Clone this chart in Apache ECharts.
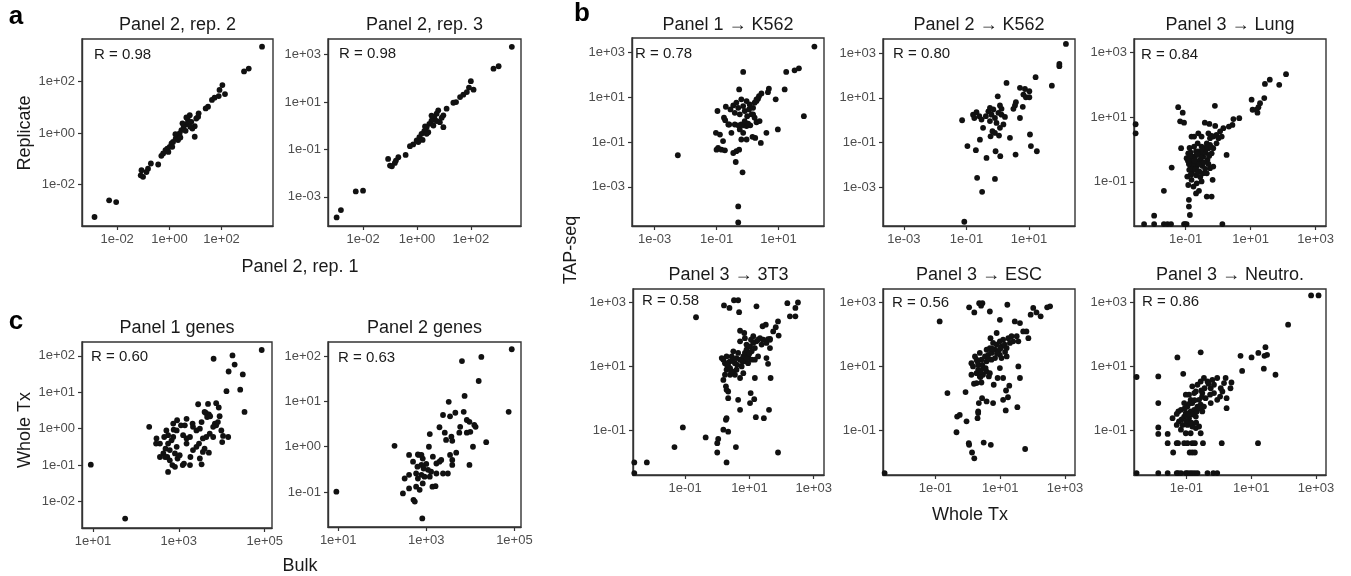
<!DOCTYPE html>
<html>
<head>
<meta charset="utf-8">
<script src="https://cdn.jsdelivr.net/npm/echarts@6/dist/echarts.min.js"></script>
<style>
  html, body { margin: 0; padding: 0; background: #fff; }
  #chart { width: 1351px; height: 576px; }
</style>
</head>
<body>
<div id="chart"></div>
<script>
// all values are log10 of the expression (axes are log scale)
var rep2 = [[3.55,3.36],[2.86,2.40],[3.04,2.51],[2.03,1.87],[2.13,1.52],[1.92,1.68],[1.89,1.44],[1.73,1.38],[1.63,1.29],[1.48,1.03],[1.39,0.96],[1.12,0.77],[1.03,0.57],[0.97,0.27],[0.97,-0.14],[0.88,0.18],[0.78,0.70],[0.71,0.51],[0.65,0.35],[0.55,0.25],[0.46,0.12],[0.39,-0.01],[0.31,-0.08],[0.24,-0.21],[0.14,-0.34],[0.08,-0.40],[0.01,-0.53],[-0.08,-0.60],[-0.15,-0.66],[-0.24,-0.79],[-0.31,-0.88],[0.23,-0.04],[0.33,-0.27],[0.5,0.38],[0.62,0.09],[0.84,0.44],[0.80,0.25],[0.11,-0.53],[-0.04,-0.73],[0.42,-0.17],[0.65,0.61],[1.10,0.64],[-0.43,-1.22],[-0.71,-1.18],[-0.82,-1.38],[-0.88,-1.51],[-1.07,-1.44],[-1.10,-1.64],[-1.01,-1.70],[-2.31,-2.61],[-2.04,-2.68],[-2.87,-3.26]];
var rep3 = [[3.52,3.33],[2.84,2.41],[3.03,2.51],[2.0,1.88],[2.1,1.52],[1.93,1.61],[1.85,1.42],[1.72,1.31],[1.60,1.21],[1.45,1.0],[1.35,0.97],[1.10,0.72],[0.98,0.44],[0.98,-0.06],[0.85,0.15],[0.79,0.65],[0.73,0.51],[0.64,0.36],[0.54,0.22],[0.46,0.08],[0.36,-0.06],[0.27,-0.23],[0.17,-0.34],[0.09,-0.48],[-0.01,-0.62],[-0.14,-0.79],[-0.26,-0.86],[0.30,-0.03],[0.61,0.01],[0.42,-0.27],[0.73,0.20],[0.92,0.34],[0.21,-0.60],[0.05,-0.69],[0.54,0.43],[0.36,-0.34],[-0.42,-1.23],[-0.69,-1.33],[-0.78,-1.47],[-0.82,-1.57],[-1.07,-1.40],[-1.0,-1.68],[-0.93,-1.71],[-2.27,-2.77],[-2.0,-2.74],[-2.82,-3.56],[-2.98,-3.87]];
var p1K562 = [[2.16,3.25],[1.66,2.28],[1.52,2.19],[1.25,2.12],[1.82,0.15],[1.20,1.34],[0.91,0.90],[0.69,1.37],[0.66,1.22],[0.45,1.16],[0.37,1.04],[0.34,0.93],[0.29,0.82],[0.23,0.75],[-0.14,2.12],[-0.27,1.34],[0.98,-0.44],[0.61,-0.59],[0.43,-1.04],[0.25,-0.82],[0.16,-0.77],[0.09,-0.26],[-0.03,-0.29],[-0.12,-0.26],[-0.97,0.38],[-0.70,0.57],[-0.76,0.08],[-0.72,-0.03],[-0.55,0.45],[-0.46,0.63],[-0.41,0.30],[-0.36,0.75],[-0.30,0.52],[-0.25,0.23],[-0.20,0.90],[-0.14,0.60],[-0.09,0.38],[-0.03,0.82],[-0.01,0.15],[0.05,0.45],[0.07,0.67],[0.13,0.23],[0.18,0.52],[0.23,0.08],[0.29,-0.12],[0.39,-0.07],[-0.59,-0.22],[-0.52,-0.59],[-1.02,-0.59],[-0.89,-0.67],[-0.79,-0.96],[-0.95,-1.26],[-1.0,-1.34],[-0.84,-1.34],[-0.73,-1.37],[-0.46,-1.49],[-0.36,-1.41],[-0.27,-1.34],[-0.2,-0.89],[-0.14,-0.59],[-0.03,-0.89],[-0.25,-0.44],[-0.41,-0.22],[-0.30,-0.26],[-0.20,-0.22],[0.02,-0.18],[-0.62,-0.22],[-0.09,-0.07],[0.29,0.90],[0.18,0.23],[-0.38,-1.89],[-0.16,-2.35],[-0.30,-3.87],[-0.30,-4.58],[-2.25,-1.59]];
var p2K562 = [[2.18,3.42],[1.97,2.52],[1.97,2.42],[1.73,1.55],[1.21,1.93],[0.28,1.67],[0.71,1.45],[0.87,1.40],[1.01,1.30],[0.82,1.15],[0.90,1.03],[1.01,1.03],[0.58,0.81],[0.55,0.66],[0.80,0.60],[0.50,0.51],[0.71,0.10],[0.39,-0.79],[1.03,-0.64],[1.06,-1.16],[1.25,-1.39],[0.57,-1.54],[0.08,-1.61],[-0.07,-1.39],[-0.36,-1.69],[-0.70,-1.34],[-0.97,-1.16],[-1.14,0.0],[-0.79,0.25],[-0.75,0.10],[-0.68,0.36],[-0.59,0.18],[-0.52,0.03],[-0.47,-0.34],[-0.57,-0.87],[-0.38,0.18],[-0.30,0.40],[-0.25,0.55],[-0.20,0.25],[-0.14,0.48],[-0.09,0.10],[-0.04,-0.12],[0.02,0.33],[0.07,0.66],[0.12,0.25],[0.18,-0.19],[0.23,0.15],[-0.17,-0.49],[-0.23,-0.72],[-0.09,-0.57],[0.04,-0.69],[0.07,-0.34],[-0.25,-0.04],[0.0,1.07],[0.12,0.51],[-0.66,-2.58],[-0.09,-2.63],[-0.50,-3.21],[-1.07,-4.55]];
var p3Lung = [[2.09,2.33],[1.59,2.16],[1.44,2.03],[1.88,2.00],[1.42,1.59],[1.29,1.43],[1.24,1.31],[1.18,1.23],[1.03,1.54],[1.06,1.23],[1.21,1.14],[0.65,0.97],[0.47,0.94],[0.44,0.76],[0.33,0.71],[0.16,0.66],[0.06,0.56],[-0.05,0.45],[-0.15,0.40],[-0.25,0.35],[0.26,-0.17],[-0.10,1.35],[-0.41,0.83],[-0.27,0.79],[-1.23,1.31],[-1.09,1.14],[-1.17,0.87],[-1.05,0.83],[-1.14,0.04],[-1.43,-0.56],[-1.67,-1.28],[-1.97,-2.05],[-2.28,-2.31],[-1.97,-2.31],[-1.67,-2.31],[-1.56,-2.31],[-1.45,-2.31],[-1.05,-2.31],[-0.97,-2.31],[0.13,-2.31],[-2.54,0.78],[-2.54,0.50],[-0.92,-0.12],[-0.87,-0.32],[-0.85,-0.53],[-0.82,-0.74],[-0.76,-0.43],[-0.71,-0.22],[-0.66,-0.53],[-0.61,-0.06],[-0.56,-0.32],[-0.51,0.09],[-0.46,-0.22],[-0.41,0.04],[-0.35,0.19],[-0.30,0.04],[-0.25,0.14],[-0.20,-0.12],[-0.15,0.04],[-0.89,-0.63],[-0.82,-0.94],[-0.76,-1.15],[-0.66,-1.05],[-0.68,-1.36],[-0.59,-1.28],[-0.51,-0.99],[-0.35,-1.46],[-0.20,-1.46],[-0.17,-0.94],[-0.46,-0.74],[-0.90,-1.56],[-0.90,-1.77],[-0.87,-2.03],[-1.02,-2.31],[-0.95,-0.84],[-0.92,-1.10],[-0.74,-0.63],[-0.58,-0.68],[-0.48,-0.51],[-0.33,-0.32],[-0.27,-0.17],[-0.63,0.19],[-0.82,0.40],[-0.74,0.09],[-0.54,-0.14],[-0.05,0.19],[0.01,0.35],[0.11,0.40],[-0.09,0.73],[-0.20,0.42],[-0.30,0.50],[-0.51,0.40],[-0.74,0.40],[-0.61,0.50],[-0.97,-0.27],[-0.78,-0.22],[-0.68,-0.06],[-0.78,-0.48],[-0.61,-0.38],[-0.85,-0.09],[-0.35,-0.74],[-0.25,-0.58],[-0.15,-0.53],[-0.90,-0.45],[-0.86,-0.20],[-0.80,-0.60],[-0.72,-0.35],[-0.68,-0.80],[-0.64,-0.15],[-0.58,-0.45],[-0.55,-0.85],[-0.52,-0.25],[-0.48,0.0],[-0.44,-0.40],[-0.40,-0.60],[-0.38,-0.10],[-0.34,0.10],[-0.30,-0.45],[-0.28,-0.20],[-0.22,0.08],[-0.84,-0.78],[-0.70,-0.62],[-0.62,-0.70],[-0.93,-0.35],[-0.88,0.05]];
var p3T3 = [[2.51,2.99],[2.43,2.82],[2.18,2.97],[2.26,2.56],[2.43,2.56],[1.89,2.40],[1.82,2.22],[1.74,2.09],[1.91,1.96],[1.64,1.86],[1.51,2.30],[1.41,2.25],[1.22,2.87],[0.52,3.06],[0.65,3.06],[0.21,2.90],[0.38,2.82],[0.68,2.69],[-0.66,2.53],[0.71,2.11],[0.84,2.04],[0.86,1.88],[0.14,1.26],[0.19,1.21],[0.24,1.10],[0.29,1.31],[0.34,1.0],[0.40,1.16],[0.45,1.31],[0.50,1.47],[0.55,1.10],[0.60,1.26],[0.65,1.42],[0.71,1.21],[0.76,1.0],[0.81,1.31],[0.86,1.42],[0.91,1.52],[0.96,1.31],[1.02,1.62],[1.07,1.47],[1.12,1.73],[1.17,1.57],[1.22,1.78],[1.27,1.83],[1.33,1.88],[1.38,1.68],[1.43,1.83],[1.53,1.73],[1.58,1.85],[1.64,1.83],[0.29,0.90],[0.40,0.74],[0.50,0.79],[0.60,0.90],[0.71,0.64],[0.81,0.79],[0.24,0.74],[0.19,0.58],[0.27,0.38],[0.34,0.22],[0.29,0.27],[0.40,0.95],[0.55,0.74],[0.86,1.16],[0.96,1.10],[1.07,1.21],[1.17,1.21],[1.27,1.31],[1.53,1.26],[1.58,1.08],[1.64,1.57],[1.17,0.64],[1.66,0.64],[1.12,1.94],[0.71,1.78],[0.91,1.68],[1.05,1.83],[0.34,0.01],[0.65,-0.04],[0.71,-0.35],[1.04,0.17],[1.02,-0.14],[1.15,-0.02],[1.20,-0.58],[1.45,-0.61],[1.61,-0.35],[0.27,-0.66],[0.29,-0.61],[0.34,-1.03],[0.19,-0.97],[0.03,-1.26],[0.0,-1.39],[0.0,-1.68],[0.58,-1.51],[0.29,-1.99],[1.89,-1.68],[-0.36,-1.21],[-1.33,-1.51],[-1.07,-0.90],[-2.19,-1.99],[-2.58,-1.99],[-2.58,-2.32],[0.35,1.12],[0.48,1.20],[0.62,1.05],[0.78,1.15],[0.92,1.25],[1.0,1.40],[0.45,0.85],[0.30,1.05]];
var p3ESC = [[2.54,2.87],[2.45,2.84],[2.02,2.82],[2.25,2.56],[2.12,2.68],[1.94,2.61],[1.81,2.09],[1.87,1.88],[1.71,2.09],[1.61,2.35],[1.45,2.40],[1.22,2.92],[0.68,2.71],[0.99,2.45],[0.70,1.88],[0.89,2.04],[0.04,2.84],[0.20,2.68],[0.35,2.97],[0.45,2.97],[0.41,2.89],[-0.87,2.40],[0.11,1.10],[0.16,1.0],[0.22,1.31],[0.27,1.21],[0.32,1.05],[0.37,1.42],[0.42,1.21],[0.47,0.95],[0.53,1.31],[0.58,1.52],[0.63,1.36],[0.68,1.57],[0.73,1.42],[0.78,1.73],[0.84,1.52],[0.89,1.68],[0.94,1.47],[0.99,1.78],[1.04,1.62],[1.09,1.83],[1.14,1.68],[1.20,1.57],[1.25,1.88],[1.30,1.73],[1.35,1.94],[1.40,1.78],[1.51,1.94],[1.56,1.78],[0.27,0.79],[0.37,0.69],[0.47,0.74],[0.58,0.84],[0.68,0.79],[0.32,0.90],[0.11,0.74],[0.58,1.16],[0.73,1.21],[0.84,1.26],[0.99,1.36],[1.04,1.26],[1.20,1.31],[0.19,0.46],[0.27,0.48],[0.42,0.50],[0.39,0.67],[0.99,0.95],[0.92,0.64],[1.09,0.64],[1.28,0.40],[1.56,1.0],[1.61,0.64],[0.80,0.43],[0.65,0.69],[1.18,0.25],[1.24,0.04],[1.09,-0.04],[1.17,-0.37],[1.53,-0.27],[0.78,-0.14],[0.58,-0.09],[0.44,0.01],[0.34,-0.14],[0.32,-0.40],[0.32,-0.45],[0.30,-0.61],[-0.07,0.20],[-0.04,-0.71],[-0.63,0.17],[-0.33,-0.56],[-0.25,-0.51],[-0.35,-1.05],[0.03,-1.39],[0.04,-1.44],[0.49,-1.37],[0.71,-1.44],[0.13,-1.68],[0.20,-1.86],[1.77,-1.57],[-2.57,-2.32],[0.30,1.15],[0.45,1.05],[0.62,1.25],[0.75,1.55],[0.90,1.40],[1.0,1.55],[1.15,1.45],[0.55,0.95],[0.40,0.85]];
var p3Neutro = [[2.85,3.21],[3.08,3.21],[2.14,2.30],[1.44,1.60],[1.49,1.36],[1.41,1.33],[1.22,1.42],[1.01,1.28],[0.67,1.33],[0.72,0.86],[1.39,0.93],[1.75,0.74],[-0.56,1.44],[-1.28,1.28],[-2.54,0.67],[-1.87,0.69],[-1.87,-0.14],[-1.87,-0.90],[-1.87,-1.10],[-1.58,-1.10],[-1.58,-1.39],[-1.41,-1.68],[-1.10,0.77],[0.39,0.50],[0.36,0.32],[0.24,0.01],[0.24,-0.30],[0.09,-1.39],[1.21,-1.39],[-1.30,-1.39],[-1.26,-1.39],[-1.07,-1.39],[-0.97,-1.39],[-0.82,-1.39],[-0.74,-1.39],[-0.49,-1.39],[-0.90,-1.68],[-0.82,-1.68],[-0.74,-1.68],[-2.54,-2.32],[-1.87,-2.32],[-1.58,-2.32],[-1.30,-2.32],[-1.26,-2.32],[-1.17,-2.32],[-1.02,-2.32],[-0.97,-2.32],[-0.89,-2.32],[-0.82,-2.32],[-0.74,-2.32],[-0.66,-2.32],[-0.35,-2.32],[-0.17,-2.32],[-0.05,-2.32],[-1.43,-0.61],[-1.30,-0.48],[-1.25,-0.40],[-1.17,-0.35],[-1.30,-0.82],[-1.23,-0.71],[-1.17,-0.97],[-1.12,-0.82],[-1.07,-0.56],[-1.02,-0.45],[-0.97,-0.25],[-0.92,-0.61],[-0.87,-0.40],[-0.82,-0.14],[-0.76,-0.35],[-0.71,-0.56],[-0.66,-0.25],[-0.61,-0.04],[-0.56,-0.19],[-0.51,-0.40],[-0.46,-0.25],[-0.92,0.12],[-0.82,0.38],[-0.71,0.22],[-0.66,0.43],[-0.56,0.53],[-0.46,0.64],[-0.35,0.53],[-0.25,0.32],[-0.15,0.43],[-0.05,0.64],[0.06,0.32],[0.16,0.48],[0.21,0.64],[-0.15,0.17],[-0.05,-0.04],[-0.25,-0.14],[-0.41,0.01],[-0.51,0.17],[-1.02,-1.08],[-0.87,-1.08],[-0.71,-0.92],[-0.61,-0.87],[-0.56,-1.08],[-0.82,-0.87],[-0.97,-0.82],[-1.07,-0.14],[-0.44,0.32],[-0.27,0.12],[0.04,0.06],[-0.32,0.46],[-0.54,0.25],[-0.20,0.58],[0.11,0.22],[-0.76,0.17],[-0.87,-0.04],[-1.02,0.12],[-1.15,-0.65],[-1.05,-0.30],[-0.95,-0.50],[-0.90,-0.15],[-0.80,-0.50],[-0.75,-0.05],[-0.68,-0.40],[-0.60,-0.30],[-0.52,0.05],[-1.0,-0.70],[-0.85,-0.75],[-0.70,-0.75]];
var p1Genes = [[4.93,2.16],[4.25,2.01],[4.30,1.76],[4.16,1.57],[3.81,1.92],[4.49,1.49],[4.43,1.07],[4.11,1.03],[4.53,0.46],[2.31,0.05],[0.95,-0.99],[1.75,-2.47],[3.45,0.67],[3.63,0.43],[3.70,0.39],[3.66,0.32],[3.60,0.46],[3.73,0.34],[3.87,0.70],[3.93,0.58],[3.95,0.34],[3.84,0.14],[3.87,0.09],[4.03,-0.20],[4.01,-0.37],[4.15,-0.23],[3.80,0.05],[3.72,-0.14],[3.80,-0.23],[3.64,-0.23],[3.56,-0.27],[3.49,0.0],[3.41,-0.05],[3.33,0.05],[3.26,-0.23],[3.18,-0.27],[3.18,-0.41],[3.10,-0.18],[3.05,0.09],[2.96,0.23],[2.87,0.14],[2.88,-0.03],[2.95,-0.05],[2.87,-0.23],[2.95,-0.50],[2.91,-0.68],[2.97,-0.82],[2.83,-0.32],[2.75,-0.18],[2.71,-0.05],[2.75,-0.41],[2.69,-0.55],[2.79,-0.59],[2.73,-0.78],[2.85,-1.0],[3.02,-0.73],[3.09,-1.0],[3.12,-0.96],[3.26,-1.0],[3.27,-0.78],[3.33,-0.59],[3.41,-0.50],[3.47,-0.41],[3.49,-0.82],[3.53,-0.98],[3.56,-0.64],[3.60,-0.55],[3.70,-0.66],[2.66,-0.23],[2.56,-0.41],[2.48,-0.27],[2.47,-0.41],[2.64,-0.68],[2.56,-0.78],[2.68,-0.78],[2.79,-0.87],[2.75,-1.19],[2.91,-1.05],[3.14,0.09],[3.18,0.27],[3.32,0.14],[3.53,0.18],[3.68,0.68],[3.91,0.18],[3.99,-0.05]];
var p2Genes = [[4.94,2.15],[4.25,1.98],[3.81,1.89],[4.19,1.45],[4.87,0.77],[3.87,1.12],[3.51,0.99],[3.38,0.70],[3.54,0.67],[3.66,0.75],[3.85,0.77],[3.98,-0.40],[3.92,0.59],[3.98,0.55],[4.0,0.33],[4.12,0.44],[4.09,0.48],[3.77,0.44],[4.06,0.0],[4.36,0.10],[3.92,0.31],[3.68,-0.13],[3.75,0.31],[3.57,0.22],[3.59,0.13],[3.30,0.43],[3.08,0.28],[3.42,0.31],[3.45,0.15],[3.54,-0.18],[3.59,-0.29],[3.59,-0.40],[3.34,-0.29],[3.49,-0.59],[3.38,-0.59],[3.23,-0.59],[3.06,0.0],[3.15,-0.22],[3.23,-0.37],[3.30,-0.33],[3.04,-0.51],[3.11,-0.55],[3.08,-0.66],[3.21,-0.87],[3.0,-0.38],[2.96,-0.66],[2.92,-0.81],[2.89,-0.62],[2.81,-0.70],[2.77,-0.88],[2.85,-0.95],[2.70,-0.33],[2.77,-0.59],[2.83,-0.18],[2.89,-0.18],[2.92,-0.26],[2.81,-0.17],[2.61,-0.18],[2.61,-0.62],[2.51,-0.70],[2.47,-1.03],[2.61,-0.92],[2.71,-1.17],[2.74,-1.21],[2.91,-1.58],[2.28,0.02],[0.96,-0.99],[2.89,-0.40],[2.94,-0.48],[2.80,-0.44],[3.14,-0.88]];

var titles = ['Panel 2, rep. 2', 'Panel 2, rep. 3', 'Panel 1 \u2192 K562', 'Panel 2 \u2192 K562', 'Panel 3 \u2192 Lung',
              'Panel 3 \u2192 3T3', 'Panel 3 \u2192 ESC', 'Panel 3 \u2192 Neutro.', 'Panel 1 genes', 'Panel 2 genes'];
var rValues = ['0.98', '0.98', '0.78', '0.80', '0.84', '0.58', '0.56', '0.86', '0.60', '0.63'];
var pointSets = [rep2, rep3, p1K562, p2K562, p3Lung, p3T3, p3ESC, p3Neutro, p1Genes, p2Genes];
var xTicks = [[-2,0,2],[-2,0,2],[-3,-1,1],[-3,-1,1],[-1,1,3],[-1,1,3],[-1,1,3],[-1,1,3],[1,3,5],[1,3,5]];
var yTicks = [[-2,0,2],[-3,-1,1,3],[-3,-1,1,3],[-3,-1,1,3],[-1,1,3],[-1,1,3],[-1,1,3],[-1,1,3],[-2,-1,0,1,2],[-1,0,1,2]];

// layout: box = [left, top, width, height], x/y = log10 axis range, r = R label offset
var layout = [
  { box: [82, 39, 191, 187],  x: [-3.35, 3.97], y: [-3.61, 3.66], r: [12, 16] },
  { box: [328, 39, 193, 187], x: [-3.30, 3.86], y: [-4.23, 3.66], r: [11, 15] },
  { box: [632, 38, 192, 188], x: [-3.73, 2.47], y: [-4.74, 3.63], r: [3, 16] },
  { box: [883, 39, 192, 187], x: [-3.67, 2.47], y: [-4.74, 3.64], r: [10, 15] },
  { box: [1134, 39, 192, 187], x: [-2.59, 3.32], y: [-2.37, 3.42], r: [7, 16] },
  { box: [633, 289, 191, 186], x: [-2.62, 3.32], y: [-2.38, 3.41], r: [9, 12] },
  { box: [883, 289, 192, 186], x: [-2.62, 3.31], y: [-2.38, 3.41], r: [9, 14] },
  { box: [1134, 289, 192, 186], x: [-2.62, 3.31], y: [-2.38, 3.41], r: [8, 13] },
  { box: [82, 342, 190, 186], x: [0.745, 5.17], y: [-2.73, 2.38], r: [9, 15] },
  { box: [328, 342, 193, 185], x: [0.77, 5.15], y: [-1.77, 2.31], r: [10, 16] }
];
var titleY = [25, 25, 25, 25, 25, 275, 275, 275, 328, 328];

var FONT = '"Liberation Sans", Arial, sans-serif';

function sci(v) {
  var e = Math.round(v);
  var s = String(Math.abs(e));
  if (s.length < 2) s = '0' + s;
  return '1e' + (e < 0 ? '-' : '+') + s;
}

function txt(str, x, y, size, opts) {
  opts = opts || {};
  return {
    type: 'text', x: x, y: y, rotation: opts.rot || 0, silent: true,
    style: {
      text: str, fill: opts.color || '#1a1a1a',
      font: (opts.bold ? 'bold ' : '') + size + 'px ' + FONT,
      align: opts.align || 'center', verticalAlign: 'middle',
      textAlign: opts.align || 'center', textVerticalAlign: 'middle'
    }
  };
}

var grids = [], xAxes = [], yAxes = [], series = [], graphics = [];
var axisCol = '#333';

layout.forEach(function (p, i) {
  var b = p.box;
  grids.push({ left: b[0], top: b[1], width: b[2], height: b[3], show: true,
               borderColor: axisCol, borderWidth: 1.4, backgroundColor: 'transparent' });
  var common = {
    type: 'value', gridIndex: i,
    splitLine: { show: false },
    axisLine: { show: true, onZero: false, lineStyle: { color: axisCol, width: 1.4 } },
    axisTick: { show: true, length: 4, lineStyle: { color: axisCol, width: 1.2 } },
    axisLabel: { color: '#4d4d4d', fontSize: 13, fontFamily: FONT, margin: 7, formatter: sci }
  };
  xAxes.push(echarts.util.merge({
    min: p.x[0], max: p.x[1],
    axisTick: { customValues: xTicks[i] },
    axisLabel: { customValues: xTicks[i] }
  }, common));
  yAxes.push(echarts.util.merge({
    min: p.y[0], max: p.y[1],
    axisTick: { customValues: yTicks[i] },
    axisLabel: { customValues: yTicks[i] }
  }, common));
  series.push({
    type: 'scatter', xAxisIndex: i, yAxisIndex: i,
    data: pointSets[i], symbolSize: 5.8, clip: true,
    itemStyle: { color: '#111', opacity: 1 }
  });
  graphics.push(txt(titles[i], b[0] + b[2] / 2, titleY[i], 18));
  graphics.push(txt('R = ' + rValues[i], b[0] + p.r[0], b[1] + p.r[1], 15, { align: 'left' }));
});

// panel letters and shared axis titles
graphics.push(txt('a', 16, 17, 26, { bold: true, color: '#000' }));
graphics.push(txt('b', 582, 14, 26, { bold: true, color: '#000' }));
graphics.push(txt('c', 16, 322, 26, { bold: true, color: '#000' }));
graphics.push(txt('Panel 2, rep. 1', 300, 267, 18));
graphics.push(txt('Whole Tx', 970, 515, 18));
graphics.push(txt('Bulk', 300, 566, 18));
graphics.push(txt('Replicate', 25, 133, 18, { rot: Math.PI / 2 }));
graphics.push(txt('TAP-seq', 571, 250, 18, { rot: Math.PI / 2 }));
graphics.push(txt('Whole Tx', 25, 430, 18, { rot: Math.PI / 2 }));

var myChart = echarts.init(document.getElementById('chart'));
myChart.setOption({
  animation: false,
  backgroundColor: '#fff',
  grid: grids,
  xAxis: xAxes,
  yAxis: yAxes,
  series: series,
  graphic: { elements: graphics }
});
</script>
</body>
</html>
